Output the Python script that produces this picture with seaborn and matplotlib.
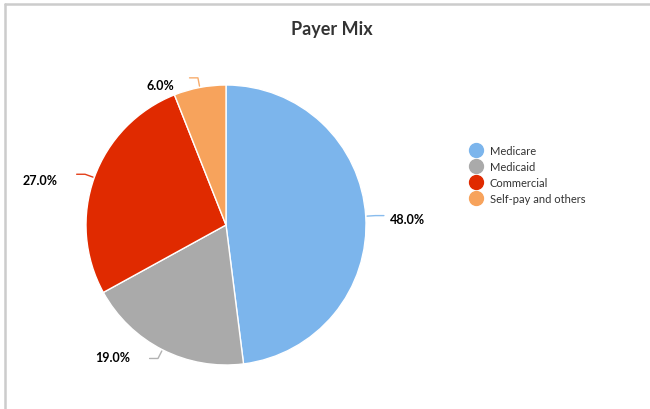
import numpy as np
import matplotlib
matplotlib.use("Agg")
import matplotlib.pyplot as plt
import seaborn as sns

categories = ["Medicare", "Medicaid", "Commercial", "Self-pay and others"]
shares = [48.0, 19.0, 27.0, 6.0]
colors = ["#7cb5ec", "#aaaaaa", "#e02a00", "#f7a35c"]
title = "Payer Mix"

sns.set_theme(style="white")
plt.rcParams['font.family'] = ['Lato', 'DejaVu Sans']

W, H = 650, 410
fig = plt.figure(figsize=(W / 100, H / 100), dpi=100)
fig.patch.set_facecolor("white")

# pie axes: center (226,226) px, radius 140 px
cx, cy, r = 226, 226, 140
ax = fig.add_axes([(cx - r) / W, (H - cy - r) / H, 2 * r / W, 2 * r / H])
wedges, _ = ax.pie(shares, colors=colors, startangle=90, counterclock=False, radius=1.0,
                   wedgeprops=dict(edgecolor="white", linewidth=1.0))
ax.set_xlim(-1, 1)
ax.set_ylim(-1, 1)
ax.set_aspect("equal")
ax.axis("off")

# label offsets relative to wedge edge point (styling)
offsets = [(0.17, -0.02), (-0.23, -0.05), (-0.26, -0.02), (-0.18, 0.02)]
for w, val, off, col in zip(wedges, shares, offsets, colors):
    ang = np.deg2rad((w.theta1 + w.theta2) / 2)
    ex, ey = np.cos(ang), np.sin(ang)
    side = 1 if ex >= 0 else -1
    mx, my = 1.07 * ex, 1.07 * ey
    tx = mx + side * 0.06
    ax.plot([ex * 1.01, mx, tx], [ey * 1.01, my, my], color=col, lw=1.0,
            solid_capstyle="round", clip_on=False, alpha=0.9)
    lx, ly = ex + off[0], ey + off[1]
    ax.text(lx, ly, f"{val:.1f}%", ha="left" if side > 0 else "right", va="center",
            fontsize=9, fontweight="bold", color="#000000", clip_on=False)

fig.text(332 / W, 1 - 29 / H, title, ha="center", va="center",
         fontsize=13, fontweight="bold", color="#333333")

handles = [plt.Line2D([], [], marker="o", linestyle="", markersize=10,
                      markerfacecolor=c, markeredgecolor=c) for c in colors]
leg = fig.legend(handles, categories, loc="upper left", bbox_to_anchor=(470 / W, 1 - 146 / H),
                 frameon=False, fontsize=8, handletextpad=0.8, labelspacing=0.45,
                 borderaxespad=0, borderpad=0, handlelength=1.0)
for t in leg.get_texts():
    t.set_color("#333333")

# outer frame lines (top and left)
fig.add_artist(plt.Line2D([5 / W, 1], [1 - 5 / H, 1 - 5 / H], transform=fig.transFigure,
                          color="#cccccc", lw=1.8))
fig.add_artist(plt.Line2D([5 / W, 5 / W], [0, 1 - 5 / H], transform=fig.transFigure,
                          color="#cccccc", lw=1.8))

fig.savefig("out.png", dpi=100)
